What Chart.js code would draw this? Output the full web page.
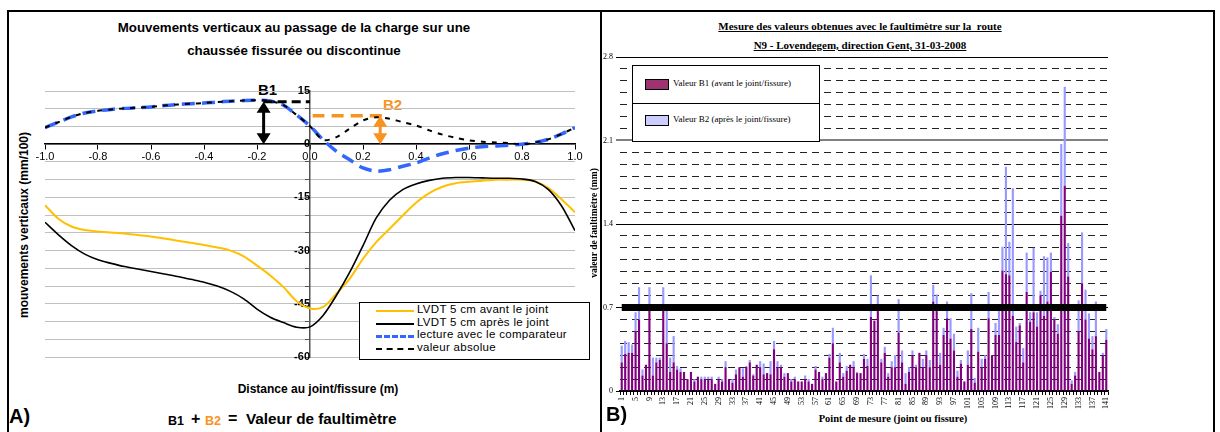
<!DOCTYPE html>
<html>
<head>
<meta charset="utf-8">
<script src="https://cdn.jsdelivr.net/npm/chart.js@4.4.1/dist/chart.umd.min.js"></script>
<style>
  body { margin: 0; width: 1220px; height: 432px; background: #fff; position: relative; overflow: hidden; font-family: "Liberation Sans", Arial, sans-serif; }
  .abs { position: absolute; white-space: nowrap; }
  .ctr { transform: translateX(-50%); text-align: center; }
  .vert { transform: translate(-50%, -50%) rotate(-90deg); }
  .serif { font-family: "Liberation Serif", "Times New Roman", serif; }
  canvas { position: absolute; }
</style>
</head>
<body>
<!-- cadres -->
<div class="abs" style="left:7px;top:10px;width:600px;height:440px;border-top:2px solid #000;border-left:2px solid #000;"></div>
<div class="abs" style="left:600px;top:10px;width:611px;height:440px;border:2px solid #000;"></div>

<!-- panneau A -->
<div class="abs ctr" style="left:294px;top:16px;font-weight:bold;font-size:13.3px;line-height:23px;">Mouvements verticaux au passage de la charge sur une<br>chaussée fissurée ou discontinue</div>
<div class="abs vert" style="left:24px;top:225px;font-weight:bold;font-size:12px;">mouvements verticaux (mm/100)</div>
<div class="abs ctr" style="left:318px;top:382px;font-weight:bold;font-size:12px;">Distance au joint/fissure (m)</div>
<div class="abs" style="left:9px;top:405px;font-weight:bold;font-size:20px;">A)</div>
<div class="abs" style="left:168px;top:414px;font-weight:bold;font-size:12.5px;">B1</div>
<div class="abs" style="left:191px;top:410px;font-weight:bold;font-size:16px;">+</div>
<div class="abs" style="left:205px;top:414px;font-weight:bold;font-size:12.5px;color:#F7931E;">B2</div>
<div class="abs" style="left:228px;top:410px;font-weight:bold;font-size:16px;">=</div>
<div class="abs" style="left:246px;top:410px;font-weight:bold;font-size:15.3px;">Valeur de faultimètre</div>
<div class="abs" style="left:258px;top:81px;font-weight:bold;font-size:15px;">B1</div>
<div class="abs" style="left:383px;top:96px;font-weight:bold;font-size:15px;color:#F7931E;">B2</div>

<canvas id="chartA" width="590" height="420" style="left:8px;top:12px;"></canvas>

<div class="abs" style="left:359px;top:302px;width:229px;height:56px;border:1px solid #000;background:#fff;font-size:11.5px;letter-spacing:0.3px;">
  <div class="abs" style="left:16px;top:7px;width:38px;border-top:2px solid #FFC000;"></div>
  <div class="abs" style="left:57px;top:0px;">LVDT 5 cm avant le joint</div>
  <div class="abs" style="left:16px;top:20px;width:38px;border-top:2px solid #000;"></div>
  <div class="abs" style="left:57px;top:13px;">LVDT 5 cm après le joint</div>
  <div class="abs" style="left:16px;top:32px;width:38px;border-top:3px dashed #3366FF;"></div>
  <div class="abs" style="left:57px;top:25px;">lecture avec le comparateur</div>
  <div class="abs" style="left:16px;top:45px;width:38px;border-top:2px dashed #000;"></div>
  <div class="abs" style="left:57px;top:38px;">valeur absolue</div>
</div>

<!-- panneau B -->
<div class="abs ctr serif" style="left:860px;top:17px;font-weight:bold;font-size:11px;line-height:19px;text-decoration:underline;white-space:pre;">Mesure des valeurs obtenues avec le faultimètre sur la  route
N9 - Lovendegem, direction Gent, 31-03-2008</div>
<div class="abs vert serif" style="left:594px;top:223px;font-weight:bold;font-size:9.5px;">valeur de faultimètre (mm)</div>
<div class="abs ctr serif" style="left:893px;top:413px;font-weight:bold;font-size:10.5px;">Point de mesure (joint ou fissure)</div>
<div class="abs" style="left:606px;top:403px;font-weight:bold;font-size:20px;">B)</div>

<canvas id="chartB" width="610" height="420" style="left:602px;top:12px;"></canvas>

<div class="abs serif" style="left:632px;top:65px;width:186px;height:75px;border:1px solid #000;background:#fff;font-size:9px;">
  <div class="abs" style="left:0;top:37px;width:186px;border-top:1px solid #000;"></div>
  <div class="abs" style="left:12px;top:13px;width:22px;height:9px;background:#9B3470;border:1px solid #000;"></div>
  <div class="abs" style="left:40px;top:12px;">Valeur B1 (avant le joint/fissure)</div>
  <div class="abs" style="left:12px;top:49px;width:22px;height:9px;background:#CCCCFF;border:1px solid #000;"></div>
  <div class="abs" style="left:40px;top:48px;">Valeur B2 (après le joint/fissure)</div>
</div>

<script>
// ---------- A) mouvements verticaux ----------
const distances = [-1, -0.95, -0.9, -0.85, -0.8, -0.75, -0.7, -0.65, -0.6, -0.55, -0.5, -0.45, -0.4, -0.35, -0.3, -0.25, -0.2, -0.15, -0.1, -0.05,
  0, 0.05, 0.1, 0.15, 0.2, 0.25, 0.3, 0.35, 0.4, 0.45, 0.5, 0.55, 0.6, 0.65, 0.7, 0.75, 0.8, 0.85, 0.9, 0.95, 1]
const lvdtAvant = [-17.2, -21.0, -23.2, -24.2, -24.6, -24.9, -25.2, -25.6, -26.0, -26.6, -27.2, -27.8, -28.4, -29.1, -30.0, -31.6, -34.2, -37.0, -40.3, -44.3,
  -46.3, -45.9, -42.1, -37.9, -32.3, -27.6, -23.9, -20.1, -16.5, -13.8, -12.0, -11.0, -10.6, -10.3, -10.0, -10.0, -10.0, -10.5, -12.4, -15.6, -19.2]
const lvdtApres = [-22.0, -25.5, -28.6, -31.0, -32.6, -33.6, -34.5, -35.2, -35.9, -36.6, -37.3, -38.1, -38.9, -40.0, -41.5, -43.6, -46.5, -48.8, -50.3, -51.6,
  -51.5, -48.2, -42.6, -36.1, -28.6, -20.8, -15.8, -12.8, -11.2, -10.2, -9.6, -9.4, -9.4, -9.5, -9.6, -9.6, -9.8, -10.5, -12.8, -17.5, -24.4]
const comparateur = [4.7, 6.2, 7.7, 8.8, 9.4, 9.8, 10.1, 10.3, 10.5, 10.9, 11.2, 11.4, 11.6, 11.9, 12.1, 12.3, 12.4, 12.2, 11.0, 8.2,
  5.1, 1.2, -2.0, -4.4, -6.7, -7.6, -7.2, -6.2, -5.3, -3.9, -2.7, -1.8, -1.1, -0.7, -0.5, -0.3, 0.0, 0.5, 1.4, 2.9, 4.7]
const valeurAbsolue = [4.7, 6.2, 7.7, 8.8, 9.4, 9.8, 10.1, 10.3, 10.5, 10.9, 11.2, 11.4, 11.6, 11.9, 12.1, 12.3, 12.4, 12.2, 11.0, 8.2,
  5.1, 1.2, 2.0, 4.4, 6.7, 7.6, 7.2, 6.2, 5.3, 3.9, 2.7, 1.8, 1.1, 0.7, 0.5, 0.3, 0.0, 0.5, 1.4, 2.9, 4.7]

// repères B1 / B2 (en unités des axes)
const repereB1 = { x: -0.175, y: 12 }
const repereB2 = { x: 0.265, y: 8 }

const pts = (ys) => distances.map((x, i) => ({ x, y: ys[i] }))

const fleches = {
  id: 'fleches',
  afterDatasetsDraw(chart) {
    const { ctx, scales: { x, y } } = chart
    ;[[repereB1, '#000'], [repereB2, '#F7931E']].forEach(([r, c]) => {
      const px = x.getPixelForValue(r.x)
      const yb = y.getPixelForValue(0)
      const yt = y.getPixelForValue(r.y)
      ctx.save()
      ctx.strokeStyle = c
      ctx.fillStyle = c
      ctx.lineWidth = 3
      ctx.beginPath()
      ctx.moveTo(px, yb - 8)
      ctx.lineTo(px, yt + 8)
      ctx.stroke()
      ctx.beginPath()
      ctx.moveTo(px - 7, yb - 11); ctx.lineTo(px + 7, yb - 11); ctx.lineTo(px, yb); ctx.closePath()
      ctx.moveTo(px - 7, yt + 11); ctx.lineTo(px + 7, yt + 11); ctx.lineTo(px, yt); ctx.closePath()
      ctx.fill()
      ctx.restore()
    })
  }
}

Chart.defaults.font.family = '"Liberation Sans", Arial, sans-serif'
Chart.defaults.color = '#000'

new Chart(document.querySelector('#chartA'), {
  type: 'line',
  data: {
    datasets: [
      { label: 'valeur absolue', data: pts(valeurAbsolue), borderColor: '#000', borderWidth: 2, borderDash: [5, 6], order: 0 },
      { label: 'lecture avec le comparateur', data: pts(comparateur), borderColor: '#3366FF', borderWidth: 3.5, borderDash: [13, 7], order: 1 },
      { label: 'LVDT 5 cm après le joint', data: pts(lvdtApres), borderColor: '#000', borderWidth: 1.6, order: 2 },
      { label: 'LVDT 5 cm avant le joint', data: pts(lvdtAvant), borderColor: '#FFC000', borderWidth: 2, order: 3 },
      { label: 'B1', data: [repereB1, { x: 0, y: repereB1.y }], borderColor: '#000', borderWidth: 3, borderDash: [9, 5], order: 0 },
      { label: 'B2', data: [{ x: 0.01, y: repereB2.y }, { x: 0.28, y: repereB2.y }], borderColor: '#F7931E', borderWidth: 3.5, borderDash: [12, 7], order: 0 }
    ]
  },
  options: {
    responsive: false,
    animation: false,
    elements: { point: { radius: 0 }, line: { tension: 0.3, fill: false } },
    layout: { padding: { left: 37, right: 23, top: 79, bottom: 75 } },
    plugins: { legend: { display: false }, tooltip: { enabled: false } },
    scales: {
      x: {
        type: 'linear', min: -1, max: 1, position: { y: 0 },
        ticks: { stepSize: 0.2, callback: v => v.toFixed(1), font: { size: 11 }, maxRotation: 0, padding: 1 },
        grid: { drawOnChartArea: false, tickLength: 5, color: '#000' },
        border: { color: '#000', width: 1.5 }
      },
      y: {
        min: -60, max: 15, position: { x: 0 },
        ticks: { stepSize: 5, autoSkip: false, callback: v => (v % 15 === 0 ? v : ''), font: { size: 11, weight: 'bold' }, padding: 2 },
        grid: { color: '#C0C0C0', lineWidth: 1, tickLength: 4, tickColor: '#555' },
        border: { color: '#555', width: 1.5 }
      }
    }
  },
  plugins: [fleches]
})

// ---------- B) mesures au faultimètre ----------
const pointsMesure = Array.from({ length: 141 }, (_, i) => String(i + 1))
const valeurB1 = [
  0.24, 0.31, 0.32, 0.32, 0.50, 0.60, 0.13, 0.22, 0.69, 0.13,
  0.24, 0.26, 0.68, 0.40, 0.16, 0.24, 0.18, 0.16, 0.16, 0.10,
  0.16, 0.08, 0.12, 0.10, 0.10, 0.10, 0.10, 0.06, 0.10, 0.08,
  0.20, 0.10, 0.07, 0.14, 0.20, 0.12, 0.20, 0.24, 0.13, 0.22,
  0.20, 0.14, 0.15, 0.14, 0.35, 0.20, 0.20, 0.12, 0.15, 0.08,
  0.10, 0.08, 0.08, 0.10, 0.08, 0.06, 0.18, 0.16, 0.10, 0.15,
  0.28, 0.40, 0.08, 0.24, 0.12, 0.17, 0.22, 0.20, 0.15, 0.15,
  0.27, 0.21, 0.62, 0.59, 0.67, 0.24, 0.32, 0.12, 0.20, 0.20,
  0.49, 0.24, 0.06, 0.16, 0.30, 0.20, 0.32, 0.20, 0.30, 0.20,
  0.75, 0.67, 0.22, 0.47, 0.61, 0.44, 0.34, 0.12, 0.23, 0.08,
  0.22, 0.52, 0.07, 0.33, 0.20, 0.27, 0.61, 0.30, 0.47, 0.47,
  1.01, 0.98, 0.97, 0.63, 0.41, 0.55, 0.24, 0.83, 0.58, 0.66,
  0.54, 0.80, 0.63, 0.75, 1.00, 0.60, 0.48, 1.47, 1.72, 0.96,
  0.06, 0.13, 0.50, 0.90, 0.60, 0.44, 0.35, 0.46, 0.16, 0.30, 0.43]
const valeurB2 = [
  0.14, 0.11, 0.09, 0.07, 0.16, 0.27, 0.05, 0, 0.18, 0.15,
  0.04, 0.02, 0.19, 0.28, 0.12, 0.22, 0.03, 0.03, 0, 0,
  0, 0.02, 0, 0.02, 0.02, 0.02, 0.02, 0, 0.02, 0.02,
  0.05, 0, 0.03, 0.04, 0, 0.07, 0.01, 0.02, 0.01, 0,
  0.05, 0.09, 0, 0.11, 0.07, 0.05, 0.02, 0.03, 0, 0.02,
  0.02, 0, 0, 0.03, 0.02, 0, 0.03, 0, 0.02, 0,
  0.03, 0.13, 0, 0.08, 0.03, 0.04, 0, 0.05, 0.01, 0,
  0.04, 0.06, 0.35, 0, 0.13, 0.03, 0.05, 0.03, 0.05, 0.10,
  0.28, 0.10, 0.09, 0.04, 0.04, 0.02, 0, 0.07, 0.04, 0.06,
  0.14, 0.14, 0.10, 0.06, 0.14, 0.17, 0.14, 0.05, 0.03, 0,
  0.12, 0.30, 0.04, 0.20, 0.07, 0.03, 0.22, 0, 0.10, 0.20,
  0.20, 0.90, 0.28, 1.07, 0.13, 0.02, 0.12, 0.33, 0.08, 0.54,
  0.12, 0.04, 0.50, 0.37, 0.16, 0.02, 0.08, 0.60, 0.83, 0.28,
  0.03, 0.03, 0.26, 0.43, 0.25, 0.21, 0.11, 0.29, 0, 0.02, 0.09]
const seuil = 0.7
const graduationsB = ['0', '0.7', '1.4', '2.1', '2.8']

const estMajeure = v => Math.abs(v / 0.7 - Math.round(v / 0.7)) < 1e-6
const serif = '"Liberation Serif", "Times New Roman", serif'

new Chart(document.querySelector('#chartB'), {
  type: 'bar',
  data: {
    labels: pointsMesure,
    datasets: [
      { type: 'line', label: 'seuil', data: [{ x: pointsMesure[0], y: seuil }, { x: pointsMesure[140], y: seuil }],
        borderColor: '#000', borderWidth: 7, pointRadius: 0, order: 0, stack: 'seuil' },
      { label: 'Valeur B1 (avant le joint/fissure)', data: valeurB1, backgroundColor: '#800080', order: 1, stack: 'f' },
      { label: 'Valeur B2 (après le joint/fissure)', data: valeurB2, backgroundColor: '#9999FF', order: 1, stack: 'f' }
    ]
  },
  options: {
    responsive: false,
    animation: false,
    barPercentage: 0.62,
    categoryPercentage: 1,
    layout: { padding: { left: 0, right: 104, top: 45, bottom: 13 } },
    plugins: { legend: { display: false }, tooltip: { enabled: false } },
    scales: {
      x: {
        stacked: true,
        ticks: { autoSkip: false, minRotation: 90, maxRotation: 90, padding: 2,
          callback: (v, i) => (i % 4 === 0 ? pointsMesure[i] : ''), font: { family: serif, size: 8 } },
        grid: { drawOnChartArea: false, tickLength: 4, color: '#000' },
        border: { color: '#000', width: 1.5 },
        afterFit: s => { s.height = 28 }
      },
      y: {
        stacked: true, min: 0, max: 2.8, position: 'left',
        ticks: { display: false, stepSize: 0.1 },
        grid: { drawTicks: false, lineWidth: 1, color: c => (estMajeure(c.tick.value) ? 'rgba(0,0,0,0)' : '#222') },
        border: { display: false, dash: [7, 5] },
        afterFit: s => { s.width = 0 }
      },
      y2: {
        min: 0, max: 2.8, position: 'left',
        ticks: { stepSize: 0.7, callback: (v, i) => graduationsB[i], font: { family: serif, size: 8 }, padding: 3 },
        grid: { tickLength: 4, color: c => (Math.abs(c.tick.value - 2.1) < 1e-6 ? '#808080' : '#000'),
          lineWidth: c => (Math.abs(c.tick.value - 2.1) < 1e-6 ? 2 : 1) },
        border: { display: false },
        afterFit: s => { s.width = 18 }
      }
    }
  }
})
</script>
</body>
</html>
